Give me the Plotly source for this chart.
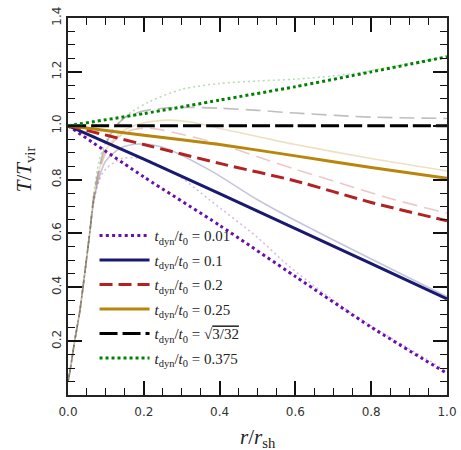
import plotly.graph_objects as go

# ---------------- data ----------------
labels = ["0.01", "0.1", "0.2", "0.25", "crit", "0.375"]

# bold curves
x_bold = [0.0, 0.2, 0.4, 0.6, 0.8, 1.0]
T_001 = [1.0, 0.81, 0.63, 0.44, 0.252, 0.08]
T_01 = [1.0, 0.876, 0.748, 0.618, 0.488, 0.357]
T_02 = [1.0, 0.93, 0.86, 0.795, 0.715, 0.647]
T_025 = [1.0, 0.965, 0.93, 0.888, 0.845, 0.805]
T_crit = [1.0, 1.0, 1.0, 1.0, 1.0, 1.0]
T_0375 = [1.0, 1.045, 1.095, 1.145, 1.2, 1.256]

# faint curves
xf_001 = [0.0, 0.005, 0.018, 0.031, 0.044, 0.058, 0.066, 0.08, 0.1, 0.145, 0.207, 0.295, 0.374, 0.5, 0.586, 0.762, 1.0]
Tf_001 = [0.05, 0.087, 0.204, 0.31, 0.45, 0.61, 0.7, 0.79, 0.84, 0.879, 0.873, 0.81, 0.724, 0.585, 0.475, 0.291, 0.09]
xf_01 = [0.0, 0.005, 0.018, 0.031, 0.044, 0.058, 0.068, 0.085, 0.1, 0.14, 0.19, 0.25, 0.374, 0.5, 0.6, 0.8, 1.0]
Tf_01 = [0.05, 0.087, 0.204, 0.31, 0.45, 0.61, 0.72, 0.82, 0.87, 0.918, 0.932, 0.92, 0.835, 0.725, 0.648, 0.505, 0.365]
xf_02 = [0.0, 0.005, 0.018, 0.031, 0.044, 0.058, 0.068, 0.085, 0.1, 0.13, 0.17, 0.22, 0.3, 0.4, 0.5, 0.6, 0.7, 0.85, 1.0]
Tf_02 = [0.05, 0.087, 0.204, 0.31, 0.45, 0.61, 0.73, 0.84, 0.9, 0.955, 0.985, 0.99, 0.968, 0.932, 0.885, 0.838, 0.795, 0.73, 0.675]
xf_025 = [0.0, 0.005, 0.018, 0.031, 0.044, 0.058, 0.068, 0.085, 0.1, 0.136, 0.18, 0.25, 0.32, 0.4, 0.5, 0.6, 0.8, 1.0]
Tf_025 = [0.05, 0.087, 0.204, 0.31, 0.45, 0.61, 0.73, 0.85, 0.91, 0.972, 1.003, 1.02, 1.015, 0.99, 0.96, 0.93, 0.878, 0.832]
xf_crit = [0.0, 0.005, 0.018, 0.031, 0.044, 0.058, 0.068, 0.085, 0.1, 0.12, 0.15, 0.2, 0.25, 0.3, 0.4, 0.5, 0.6, 0.8, 1.0]
Tf_crit = [0.05, 0.087, 0.204, 0.31, 0.45, 0.61, 0.74, 0.86, 0.93, 0.985, 1.03, 1.055, 1.065, 1.068, 1.065, 1.057, 1.047, 1.032, 1.027]
xf_0375 = [0.0, 0.005, 0.018, 0.031, 0.044, 0.058, 0.068, 0.083, 0.1, 0.12, 0.163, 0.216, 0.3, 0.4, 0.5, 0.6, 0.7, 0.77, 0.85, 1.0]
Tf_0375 = [0.05, 0.087, 0.204, 0.31, 0.45, 0.61, 0.75, 0.875, 0.94, 0.99, 1.046, 1.09, 1.135, 1.157, 1.166, 1.173, 1.185, 1.197, 1.218, 1.256]

x_ticks = [0.0, 0.2, 0.4, 0.6, 0.8, 1.0]
x_ticktext = ["0.0", "0.2", "0.4", "0.6", "0.8", "1.0"]
y_ticks = [0.2, 0.4, 0.6, 0.8, 1.0, 1.2, 1.4]
y_ticktext = ["0.2", "0.4", "0.6", "0.8", "1.0", "1.2", "1.4"]

# ---------------- styles ----------------
colors = ["#6a0dad", "#191970", "#b22222", "#b8860b", "#000000", "#008000"]
faint_colors = ["rgba(106,13,173,0.28)", "rgba(25,25,112,0.25)", "rgba(178,34,34,0.25)",
                "rgba(184,134,11,0.25)", "rgba(128,128,128,0.5)", "rgba(0,128,0,0.28)"]
dashes = ["3px,3.3px", "solid", "13px,6px", "solid", "18px,5px", "3px,3px"]
faint_dashes = ["2px,3px", "solid", "15px,7px", "solid", "15px,7px", "2px,3px"]

bold = [T_001, T_01, T_02, T_025, T_crit, T_0375]
faint_x = [xf_001, xf_01, xf_02, xf_025, xf_crit, xf_0375]
faint_y = [Tf_001, Tf_01, Tf_02, Tf_025, Tf_crit, Tf_0375]

def legend_name(v):
    base = "<i>t</i><sub>dyn</sub>/<i>t</i><sub>0</sub> = "
    if v == "crit":
        return base + "√<span style='text-decoration:overline'>3/32</span>"
    return base + v

fig = go.Figure()
for i in range(6):
    fig.add_trace(go.Scatter(
        x=faint_x[i], y=faint_y[i], mode="lines", showlegend=False,
        line=dict(color=faint_colors[i], width=1.6, dash=faint_dashes[i], shape="spline", smoothing=0.8),
        hoverinfo="skip"))
for i in range(6):
    fig.add_trace(go.Scatter(
        x=x_bold, y=bold[i], mode="lines", name=legend_name(labels[i]),
        legendgroup="g%d" % i,
        line=dict(color=colors[i], width=3, dash=dashes[i], shape="spline", smoothing=0.6)))

axis_common = dict(
    showline=True, linecolor="#222222", linewidth=2, mirror="allticks",
    ticks="inside", ticklen=14, tickwidth=1.6, tickcolor="#111111",
    showgrid=False, zeroline=False, automargin=False,
    tickfont=dict(family="DejaVu Sans", size=12, color="#333333"),
    minor=dict(ticks="inside", ticklen=7, tickwidth=1.3, tickcolor="#111111", dtick=0.05, tick0=0, showgrid=False),
)

fig.update_layout(
    width=461, height=450,
    margin=dict(l=68, r=14, t=18, b=55),
    paper_bgcolor="white", plot_bgcolor="white",
    xaxis=dict(range=[0, 1], tickmode="array", tickvals=x_ticks, ticktext=x_ticktext,
               ticklabelstandoff=5, **axis_common),
    yaxis=dict(range=[0, 1.4], tickmode="array", tickvals=y_ticks, ticktext=y_ticktext, tickangle=-90, **axis_common),
    legend=dict(x=0.07, y=0.466, xanchor="left", yanchor="top", bgcolor="rgba(0,0,0,0)",
                borderwidth=0, itemwidth=50, tracegroupgap=2, traceorder="grouped",
                font=dict(family="Liberation Serif", size=15, color="#222222")),
    showlegend=True,
)

fig.add_annotation(text="<i>r</i>/<i>r</i><sub>sh</sub>", xref="paper", yref="paper",
                   x=0.5, y=-0.075, xanchor="center", yanchor="top", showarrow=False,
                   font=dict(family="Liberation Serif", size=21, color="#222222"))
fig.add_annotation(text="<i>T</i>/<i>T</i><sub>vir</sub>", xref="paper", yref="paper",
                   x=-0.115, y=0.6, xanchor="center", yanchor="middle", textangle=-90, showarrow=False,
                   font=dict(family="Liberation Serif", size=21, color="#222222"))

fig.write_html("out.html", config={"displayModeBar": False},
               post_script="document.body.style.margin='0px';")
